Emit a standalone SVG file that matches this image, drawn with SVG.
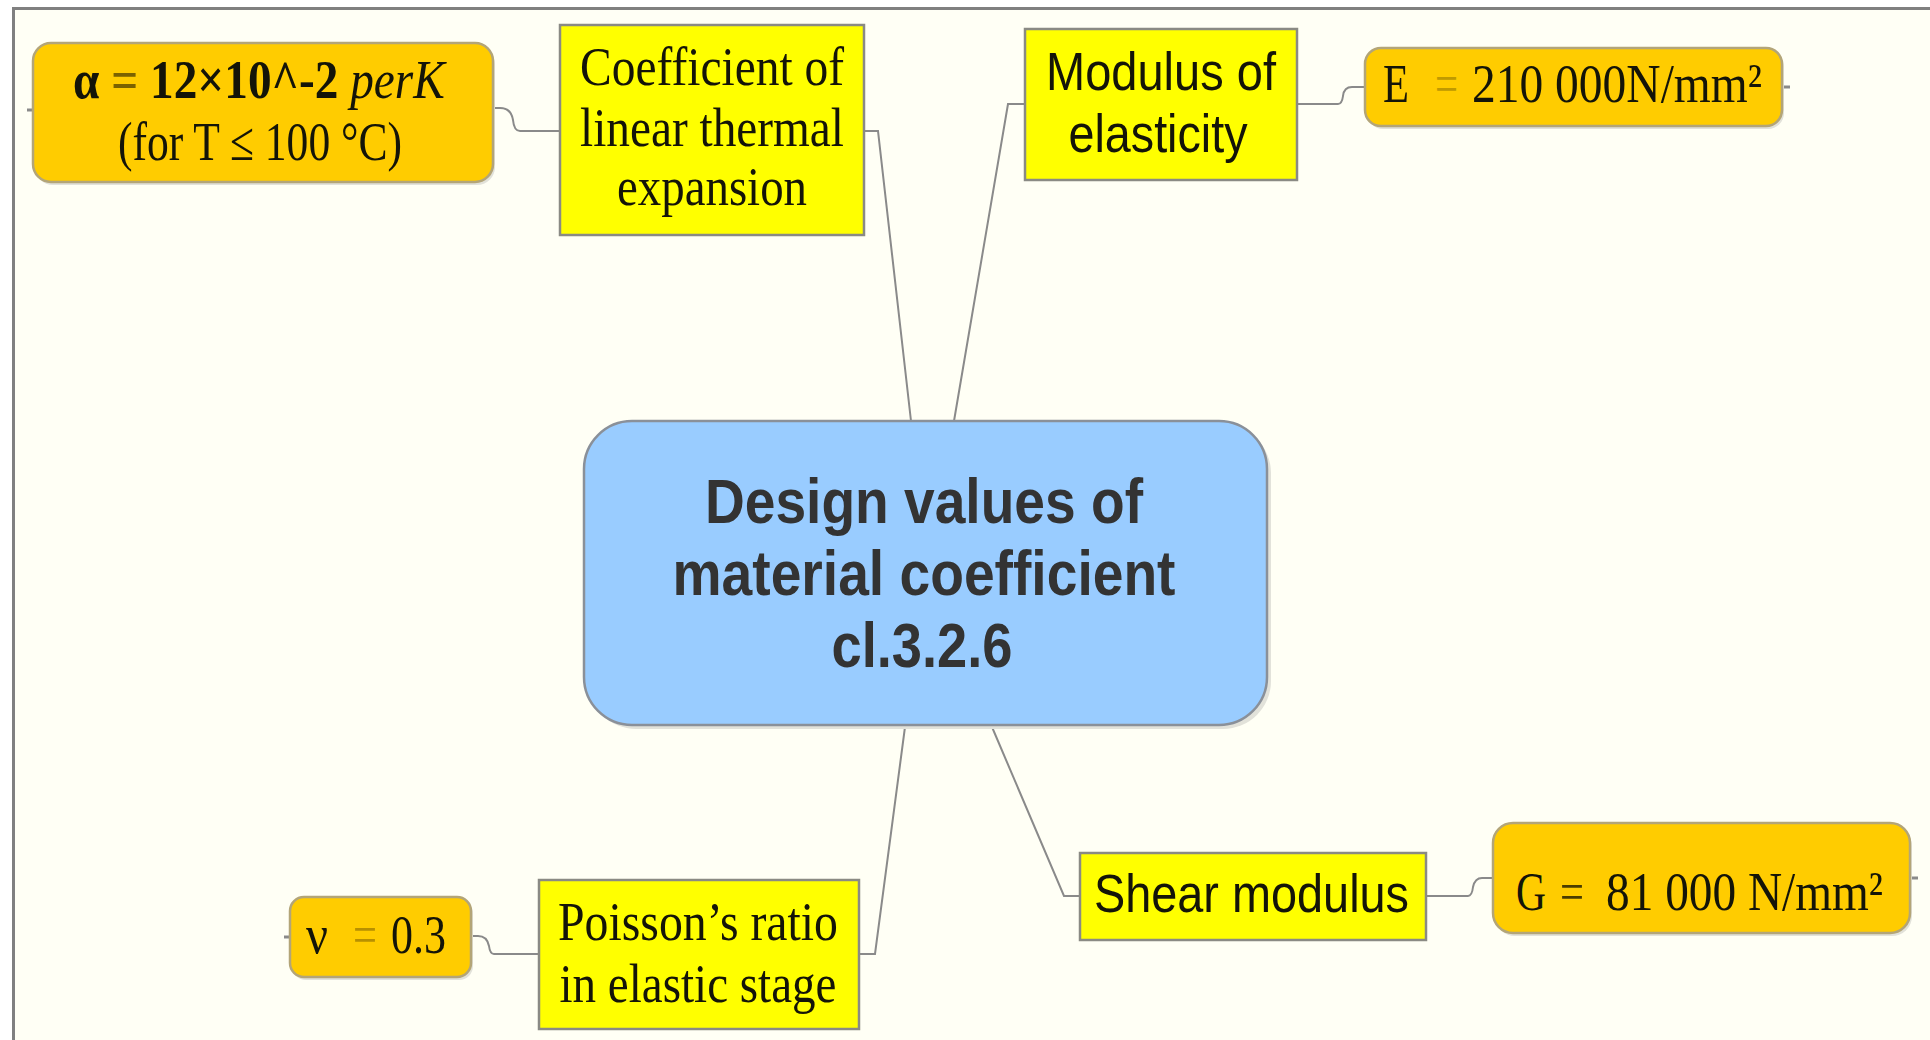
<svg xmlns="http://www.w3.org/2000/svg" width="1930" height="1040" viewBox="0 0 1930 1040">
<style>
.serif{font-family:"Liberation Serif","Times New Roman",serif;font-size:55px;fill:#141408}
.sans{font-family:"Liberation Sans",Arial,sans-serif;font-size:53px;fill:#141408}
.center{font-family:"Liberation Sans",Arial,sans-serif;font-size:63px;font-weight:bold;fill:#333333}
.yel{fill:#FFFF00;stroke:#8A8A84;stroke-width:2.5}
.org{fill:#FFCC00;stroke:#B3A578;stroke-width:2.5}
.shadow{fill:#E2E2DA}
.conn{fill:none;stroke:#8A8A8A;stroke-width:2}
.stub{fill:none;stroke:#8A8A8A;stroke-width:3}
</style>
<rect width="1930" height="1040" fill="#FFFFFF"/>
<rect x="13.5" y="8.5" width="2000" height="1100" fill="#FFFFF5" stroke="#808080" stroke-width="3"/>
<g id="connectors">
<path class="conn" d="M911,421 L878,131 L864,131"/>
<path class="conn" d="M954,421 L1008,104 L1025,104"/>
<path class="conn" d="M905,727 L875,954 L859,954"/>
<path class="conn" d="M992,727 L1064,896 L1080,896"/>
<path class="conn" d="M560,131 H520 Q514,131 513,120 Q511,108 500,108 H493"/>
<path class="conn" d="M1297,104 H1338 Q1342,104 1343,96 Q1344,87 1352,87 H1365"/>
<path class="conn" d="M539,954 H494 Q490,954 489,946 Q487,936 478,936 H471"/>
<path class="conn" d="M1426,896 H1468 Q1472,896 1473,887 Q1475,878 1482,878 H1493"/>
<path class="stub" d="M27,110 H33"/>
<path class="stub" d="M1782,87 H1790"/>
<path class="stub" d="M284,937 H290"/>
<path class="stub" d="M1910,878 H1918"/>
</g>
<g id="central">
<rect class="shadow" x="588" y="425" width="683" height="304" rx="48"/>
<rect x="584" y="421" width="683" height="304" rx="48" fill="#99CCFF" stroke="#8A9099" stroke-width="2.5"/>
<text class="center" x="924" y="523" text-anchor="middle" textLength="438" lengthAdjust="spacingAndGlyphs">Design values of</text>
<text class="center" x="924" y="595" text-anchor="middle" textLength="503" lengthAdjust="spacingAndGlyphs">material coefficient</text>
<text class="center" x="922" y="667" text-anchor="middle" textLength="181" lengthAdjust="spacingAndGlyphs">cl.3.2.6</text>
</g>
<g id="coefficient">
<rect class="yel" x="560" y="25" width="304" height="210"/>
<text class="serif" x="712" y="85" text-anchor="middle" textLength="264" lengthAdjust="spacingAndGlyphs">Coefficient of</text>
<text class="serif" x="712" y="146" text-anchor="middle" textLength="264" lengthAdjust="spacingAndGlyphs">linear thermal</text>
<text class="serif" x="712" y="205" text-anchor="middle" textLength="190" lengthAdjust="spacingAndGlyphs">expansion</text>
</g>
<g id="alpha">
<rect class="shadow" x="35" y="46" width="460" height="139" rx="18"/>
<rect class="org" x="33" y="43" width="460" height="139" rx="18"/>
<text class="serif" transform="translate(73,98) scale(0.86,1)" x="0" y="0"><tspan font-weight="bold">α </tspan><tspan font-weight="bold" style="fill:#7A6200">=</tspan><tspan font-weight="bold"> 12×10^-2 </tspan><tspan font-style="italic">perK</tspan></text>
<text class="serif" x="118" y="160" textLength="284" lengthAdjust="spacingAndGlyphs">(for T ≤ 100 °C)</text>
</g>
<g id="modulus">
<rect class="yel" x="1025" y="29" width="272" height="151"/>
<text class="sans" x="1161" y="90" text-anchor="middle" textLength="230" lengthAdjust="spacingAndGlyphs">Modulus of</text>
<text class="sans" x="1158" y="152" text-anchor="middle" textLength="179" lengthAdjust="spacingAndGlyphs">elasticity</text>
</g>
<g id="e-value">
<rect class="shadow" x="1367" y="51" width="417" height="78" rx="16"/>
<rect class="org" x="1365" y="48" width="417" height="78" rx="16"/>
<text class="serif" x="1383" y="102" textLength="26" lengthAdjust="spacingAndGlyphs">E</text>
<text class="serif" x="1435" y="102" style="fill:#C09A00" textLength="23" lengthAdjust="spacingAndGlyphs">=</text>
<text class="serif" x="1472" y="102" textLength="290" lengthAdjust="spacingAndGlyphs">210 000N/mm²</text>
</g>
<g id="poisson">
<rect class="yel" x="539" y="880" width="320" height="149"/>
<text class="serif" x="698" y="940" text-anchor="middle" textLength="280" lengthAdjust="spacingAndGlyphs">Poisson’s ratio</text>
<text class="serif" x="698" y="1002" text-anchor="middle" textLength="277" lengthAdjust="spacingAndGlyphs">in elastic stage</text>
</g>
<g id="nu-value">
<rect class="shadow" x="292" y="900" width="181" height="80" rx="14"/>
<rect class="org" x="290" y="897" width="181" height="80" rx="14"/>
<text class="serif" x="306" y="953" textLength="22" lengthAdjust="spacingAndGlyphs">ν</text>
<text class="serif" x="353" y="953" style="fill:#B89000" textLength="24" lengthAdjust="spacingAndGlyphs">=</text>
<text class="serif" x="391" y="953" textLength="55" lengthAdjust="spacingAndGlyphs">0.3</text>
</g>
<g id="shear">
<rect class="yel" x="1080" y="853" width="346" height="87"/>
<text class="sans" x="1094" y="912" textLength="315" lengthAdjust="spacingAndGlyphs">Shear modulus</text>
</g>
<g id="g-value">
<rect class="shadow" x="1495" y="826" width="417" height="110" rx="20"/>
<rect class="org" x="1493" y="823" width="417" height="110" rx="20"/>
<text class="serif" x="1516" y="910" textLength="30" lengthAdjust="spacingAndGlyphs">G</text>
<text class="serif" x="1560" y="910" style="fill:#4A3C00" textLength="24" lengthAdjust="spacingAndGlyphs">=</text>
<text class="serif" x="1606" y="910" textLength="277" lengthAdjust="spacingAndGlyphs">81 000 N/mm²</text>
</g>
</svg>
